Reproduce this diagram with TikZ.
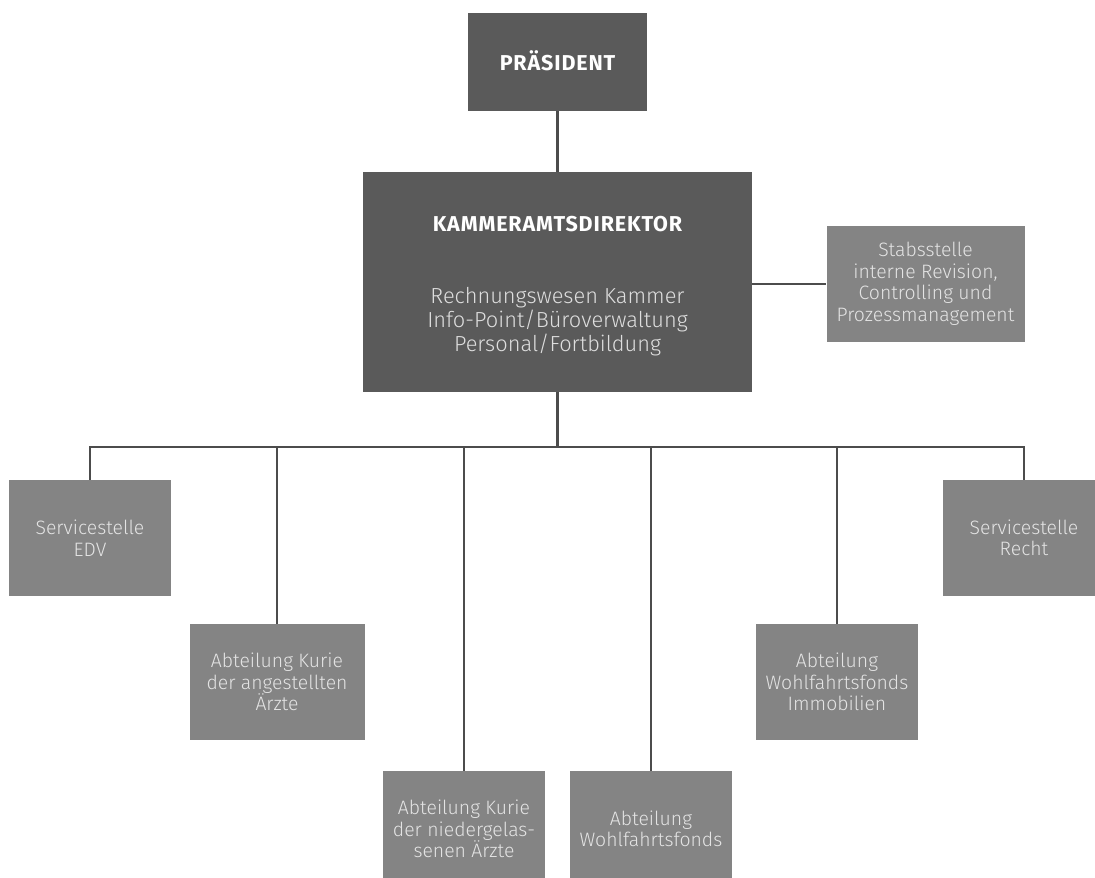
\documentclass[tikz,border=0pt]{standalone}
\usepackage{fontspec}
\setmainfont{Fira Sans}
\IfFontExistsTF{Fira Sans Light}{\newfontfamily\lightfont{Fira Sans Light}}{\newfontfamily\lightfont{Fira Sans}}
\newfontfamily\titlefont{Fira Sans}[LetterSpace=4]
\usetikzlibrary{positioning}
\definecolor{darkbox}{HTML}{5A5A5A}
\definecolor{lightbox}{HTML}{848484}
\definecolor{linecol}{HTML}{4C4C4C}
\definecolor{txtlight}{HTML}{E4E4E4}
\definecolor{txtdark}{HTML}{DEDEDE}
\tikzset{
  darkrect/.style={fill=darkbox, draw=none, inner sep=0pt, minimum width=#1},
  titletext/.style={anchor=base, inner sep=0pt, text=white,
    font=\titlefont\fontsize{21.5}{24}\selectfont\bfseries},
  kadtext/.style={anchor=base, inner sep=0pt, text=txtdark,
    font=\lightfont\fontsize{21.8}{24}\selectfont},
  lightrect/.style={fill=lightbox, draw=none, inner sep=0pt, minimum height=116pt,
    minimum width=#1, align=center, text=txtlight,
    font=\lightfont\fontsize{19.4}{21.5}\selectfont},
  conn/.style={draw=linecol, line width=2.6pt},
}
\begin{document}
\begin{tikzpicture}[x=1pt,y=-1pt]
\useasboundingbox (0,0) rectangle (1095,878);
% top boxes
\node[darkrect=179pt, minimum height=98pt] (pres) at (557.5,62) {};
\node[titletext] (prestitle) at (557.5,70) {PRÄSIDENT};
\node[darkrect=389pt, minimum height=220pt] (kad) at (557.5,282) {};
\node[titletext] (kadtitle) at (557.5,231) {KAMMERAMTSDIREKTOR};
\node[kadtext] (kadl1) at (557.5,303) {Rechnungswesen Kammer};
\node[kadtext] (kadl2) at (557.5,327) {Info-Point/Büroverwaltung};
\node[kadtext] (kadl3) at (557.5,351) {Personal/Fortbildung};
\node[lightrect=198pt] (stab) at (925.5,284) {Stabsstelle\\interne Revision,\\Controlling und\\Prozessmanagement};
% lower boxes
\node[lightrect=162pt] (edv) at (90,538) {Servicestelle\\EDV};
\node[lightrect=175pt] (kang) at (277,682) {Abteilung Kurie\\der angestellten\\Ärzte};
\node[lightrect=162pt] (knied) at (464,829) {Abteilung Kurie\\der niedergelas-\\senen Ärzte};
\node[lightrect=162pt] (wohl) at (651,829) {Abteilung\\Wohlfahrtsfonds};
\node[lightrect=162pt] (immo) at (837,682) {Abteilung\\Wohlfahrtsfonds\\Immobilien};
\node[lightrect=162pt] (recht) at (1024,538) {Servicestelle\\Recht};
% connectors
\coordinate (bus) at (557.5,447);
\draw[conn] (pres.south) -- (kad.north);
\draw[conn] (kad.east |- stab.west) -- (stab.west);
\draw[conn] (kad.south) -- (bus);
\draw[conn] (edv.north) -- (edv.north |- bus) -- (recht.north |- bus) -- (recht.north);
\draw[conn] (kang.north |- bus) -- (kang.north);
\draw[conn] (knied.north |- bus) -- (knied.north);
\draw[conn] (wohl.north |- bus) -- (wohl.north);
\draw[conn] (immo.north |- bus) -- (immo.north);
\end{tikzpicture}
\end{document}
